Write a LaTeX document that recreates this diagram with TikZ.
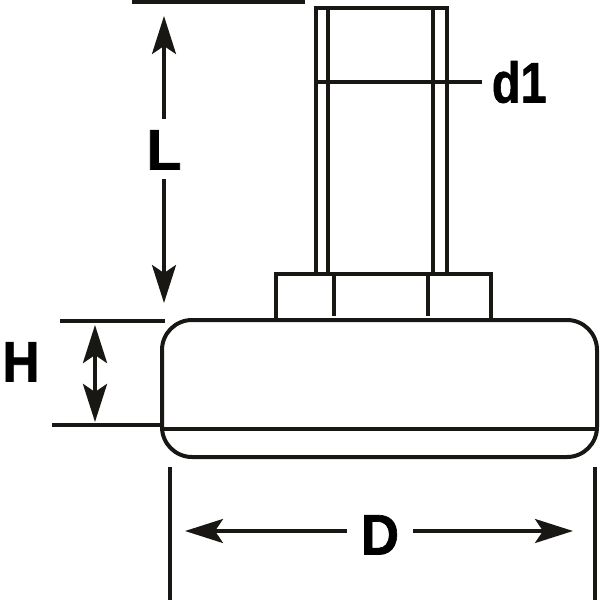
\documentclass[tikz,border=0pt]{standalone}
\usepackage{fontspec}
\setmainfont{Liberation Sans}
\newfontfamily\dimfont{Liberation Sans}[BoldFeatures={FakeBold=1.2}]
\usetikzlibrary{arrows.meta}
\definecolor{ink}{rgb}{0.1,0.09,0.08}
\newcommand{\narrow}[2]{\scalebox{#1}[1]{#2}}
\tikzset{
  part/.style={draw=ink, line width=0.4mm},
  thinpart/.style={draw=ink, line width=0.35mm},
  dim/.style={draw=ink, line width=0.33mm, -{Stealth[length=3.8mm,width=2.4mm,inset=0.8mm]}},
  dimboth/.style={draw=ink, line width=0.38mm, {Stealth[length=3.8mm,width=2.4mm,inset=0.8mm]}-{Stealth[length=3.8mm,width=2.4mm,inset=0.8mm]}},
  size/.style={font=\fontsize{16.3pt}{16.3pt}\dimfont\bfseries, inner sep=0pt, text height=11.7pt, text depth=0pt},
}
\begin{document}
\begin{tikzpicture}[x=0.01cm,y=-0.01cm]
    \useasboundingbox (0,0) rectangle (600,600);

    % base
    \draw[part, rounded corners=0.3cm] (162,320) rectangle (597,457);
    \draw[part] (162,429) -- (597,429);

    % hex nut
    \draw[part] (276,320) -- (276,274) -- (491,274) -- (491,320);
    \draw[part] (334,274) -- (334,316);
    \draw[part] (428,274) -- (428,316);

    % stem
    \draw[part] (316,274) -- (316,8) -- (447,8) -- (447,274);
    \draw[part] (328,8) -- (328,274);
    \draw[part] (433,8) -- (433,274);

    % labels
    \node[size, outer xsep=4pt, outer ysep=2.8pt] (L) at (164,149) {L};
    \node[size, outer xsep=4pt] (D) at (380,534) {\narrow{0.92}{D}};
    \node[size] (H) at (21,361) {\narrow{0.9}{H}};
    \node[size, anchor=west, outer sep=2.8pt] (d1) at (482,82) {\narrow{0.82}{d1}};

    % extension lines
    \draw[line width=0.45mm, draw=ink] (132,2) -- (305,2);
    \draw[thinpart] (60,321) -- (165,321);
    \draw[thinpart] (52,425) -- (162,425);
    \draw[thinpart] (170,467) -- (170,600);
    \draw[thinpart] (595,467) -- (595,600);

    % dimensions
    \coordinate (ltop) at (164,16);
    \coordinate (lbot) at (164,303);
    \coordinate (dleft) at (185,531);
    \coordinate (dright) at (573,531);
    \coordinate (htop) at (95,325);
    \coordinate (hbot) at (95,422);
    \coordinate (d1left) at (316,82);

    \draw[dim] (L.north) -- (ltop);
    \draw[dim] (L.south) -- (lbot);
    \draw[dim] (D.west |- dleft) -- (dleft);
    \draw[dim] (D.east |- dright) -- (dright);
    \draw[dimboth] (htop) -- (hbot);
    \draw[thinpart] (d1left) -- (d1.west);
\end{tikzpicture}
\end{document}
